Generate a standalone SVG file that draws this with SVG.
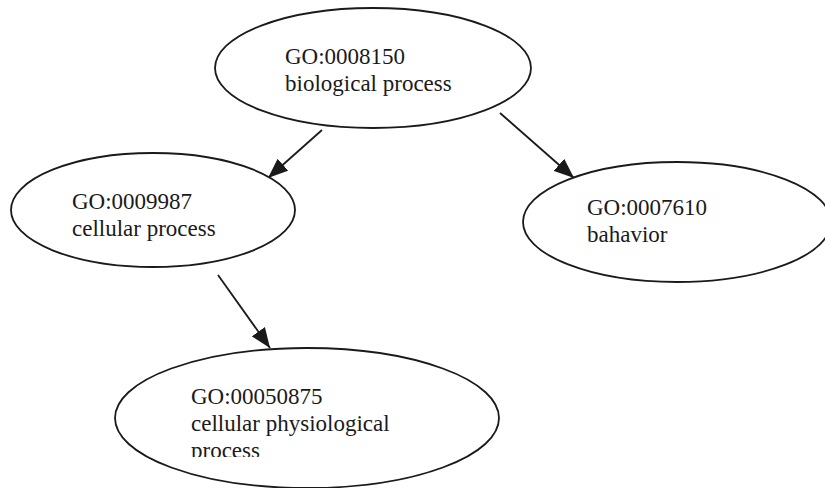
<svg xmlns="http://www.w3.org/2000/svg" width="825" height="488" viewBox="0 0 825 488">
<style>
.node{fill:#fff;stroke:#1a1a1a;stroke-width:1.8}
.lbl{font-family:"Liberation Serif","Times New Roman",serif;font-size:23px;fill:#1a1a1a}
.edge{stroke:#1a1a1a;stroke-width:1.8;fill:none;marker-end:url(#arr)}
</style>
<defs>
<marker id="arr" viewBox="0 0 20 16" refX="20" refY="8" markerWidth="20" markerHeight="16" markerUnits="userSpaceOnUse" orient="auto">
<path d="M0,0 L20,8 L0,16 Z" fill="#1a1a1a"/>
</marker>
<clipPath id="clipb"><rect x="0" y="0" width="825" height="457"/></clipPath>
</defs>
<rect width="825" height="488" fill="#fff"/>
<g id="connectors">
<line class="edge" x1="322" y1="130" x2="268" y2="178"/>
<line class="edge" x1="500" y1="113" x2="574" y2="178"/>
<line class="edge" x1="218" y1="275" x2="270" y2="348"/>
</g>
<g id="n_biological">
<ellipse class="node" cx="373" cy="68" rx="158" ry="60"/>
<text class="lbl" x="285" y="64">GO:0008150</text>
<text class="lbl" x="285" y="91">biological process</text>
</g>
<g id="n_cellular">
<ellipse class="node" cx="153" cy="210" rx="142" ry="57"/>
<text class="lbl" x="72" y="209">GO:0009987</text>
<text class="lbl" x="72" y="236">cellular process</text>
</g>
<g id="n_behavior">
<ellipse class="node" cx="677" cy="222" rx="154" ry="60"/>
<text class="lbl" x="587" y="215">GO:0007610</text>
<text class="lbl" x="587" y="242">bahavior</text>
</g>
<g id="n_physio">
<ellipse class="node" cx="307" cy="418" rx="192" ry="70"/>
<text class="lbl" x="191" y="404">GO:00050875</text>
<text class="lbl" x="191" y="431">cellular physiological</text>
<text class="lbl" x="191" y="458" clip-path="url(#clipb)">process</text>
</g>
</svg>
